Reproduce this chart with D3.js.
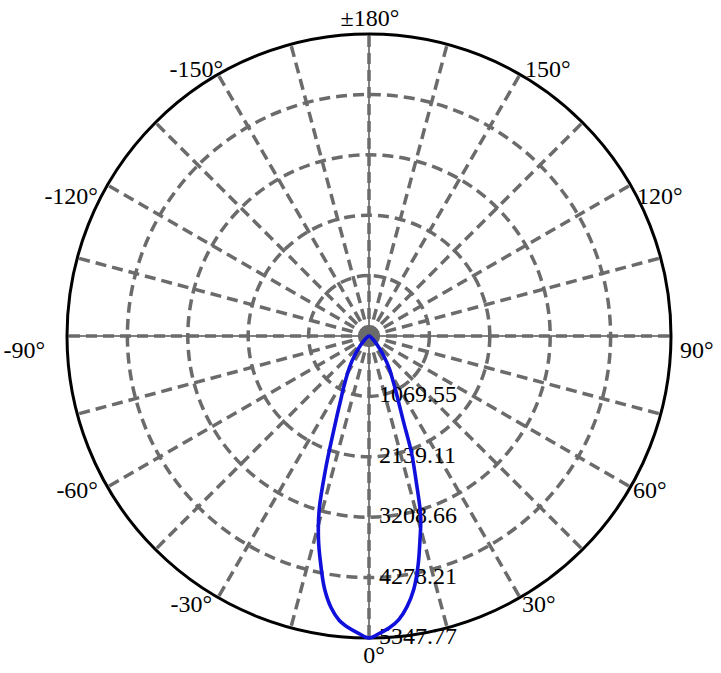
<!DOCTYPE html>
<html>
<head>
<meta charset="utf-8">
<script src="https://cdn.jsdelivr.net/npm/d3@7"></script>
<style>
  body { margin: 0; background: #fff; }
  text { font-family: "Liberation Serif", "Times New Roman", serif; font-size: 24px; fill: #000; }
</style>
</head>
<body>
<svg id="chart" width="721" height="673"></svg>
<script>
// angle ticks round the rim
var angleTicks = [180, 150, 120, 90, 60, 30, 0, -30, -60, -90, -120, -150];
var angleLabels = ["±180°", "150°", "120°", "90°", "60°", "30°", "0°", "-30°", "-60°", "-90°", "-120°", "-150°"];

// rings (cd)
var ringValues = [1069.55, 2139.11, 3208.66, 4278.21, 5347.77];
var ringLabels = ["1069.55", "2139.11", "3208.66", "4278.21", "5347.77"];

// intensity curve, gamma in degrees
var gamma = [-180, -90, -80, -70, -60, -50, -45, -40, -36, -32, -28, -26, -24, -22, -20, -18, -16, -14, -12, -10, -8, -6, -4, -2,
  0, 2, 4, 6, 8, 10, 12, 14, 16, 18, 20, 22, 24, 26, 28, 32, 36, 40, 45, 50, 60, 70, 80, 90, 180];
var intensity = [0, 0, 5, 15, 35, 90, 160, 290, 450, 650, 880, 1040, 1220, 1500, 1900, 2500, 3200, 3700, 4120, 4540, 4850, 5060, 5180, 5270,
  5347.77, 5270, 5180, 5050, 4840, 4560, 4170, 3730, 3320, 2700, 2200, 1620, 1300, 1080, 910, 680, 460, 290, 160, 90, 35, 15, 5, 0, 0];

var cx = 369, cy = 336, R = 302;

var svg = d3.select("#chart");
var g = svg.append("g").attr("transform", "translate(" + cx + "," + cy + ")");

var r = d3.scaleLinear().domain([0, 5347.77]).range([0, R]);
// 0 deg points down, positive angles to the right
var ang = function(deg) { return Math.PI - deg * Math.PI / 180; };
function pt(deg, rad) {
  var a = ang(deg);
  return [rad * Math.sin(a), -rad * Math.cos(a)];
}

// thin black axes under the dashes
g.append("line").attr("x1", -R).attr("x2", R).attr("y1", 0).attr("y2", 0)
  .attr("stroke", "#000").attr("stroke-width", 1);
g.append("line").attr("x1", 0).attr("x2", 0).attr("y1", -R).attr("y2", R)
  .attr("stroke", "#000").attr("stroke-width", 1);

// dashed rings
g.selectAll(".ring")
  .data(ringValues.slice(0, -1))
  .enter()
  .append("circle")
  .attr("class", "ring")
  .attr("r", function(d) { return r(d); })
  .attr("fill", "none")
  .attr("stroke", "#6b6b6b")
  .attr("stroke-width", 3.5)
  .attr("stroke-dasharray", "11,6");

// dashed spokes every 15 deg
g.selectAll(".spoke")
  .data(d3.range(-180, 180, 15))
  .enter()
  .append("line")
  .attr("class", "spoke")
  .attr("x1", 0).attr("y1", 0)
  .attr("x2", function(d) { return pt(d, R)[0]; })
  .attr("y2", function(d) { return pt(d, R)[1]; })
  .attr("stroke", "#6b6b6b")
  .attr("stroke-width", 3.5)
  .attr("stroke-dasharray", "11,6");

// outer rim
g.append("circle").attr("r", R).attr("fill", "none").attr("stroke", "#000").attr("stroke-width", 3);

// ring value labels
g.selectAll(".rlab")
  .data(ringValues)
  .enter()
  .append("text")
  .attr("class", "rlab")
  .attr("x", 10)
  .attr("y", function(d) { return r(d) + 6; })
  .text(function(d, i) { return ringLabels[i]; });

// the curve
var line = d3.lineRadial()
  .angle(function(d) { return ang(d[0]); })
  .radius(function(d) { return r(d[1]); })
  .curve(d3.curveCatmullRom.alpha(0.5));

g.append("path")
  .datum(gamma.map(function(d, i) { return [d, intensity[i]]; }))
  .attr("d", line)
  .attr("fill", "none")
  .attr("stroke", "#1010dc")
  .attr("stroke-width", 3.6)
  .attr("stroke-linejoin", "round");

// rim labels, small nudges so they sit like the original
var nudge = {
  "180": [1, -8], "150": [5, 2.5], "120": [6.5, 19], "90": [9, 21.5], "60": [2.5, 11], "30": [2, 14.5],
  "0": [5, 25], "-30": [-6, 14.5], "-60": [-9.5, 11], "-90": [-22, 21.5], "-120": [-9.5, 19], "-150": [5, 2.5]
};
g.selectAll(".alab")
  .data(angleTicks)
  .enter()
  .append("text")
  .attr("class", "alab")
  .attr("text-anchor", function(d) { return (d === 0 || d === 180) ? "middle" : (d > 0 ? "start" : "end"); })
  .attr("x", function(d) { return pt(d, R)[0] + nudge[d][0]; })
  .attr("y", function(d) { return pt(d, R)[1] + nudge[d][1]; })
  .text(function(d, i) { return angleLabels[i]; });
</script>
</body>
</html>
